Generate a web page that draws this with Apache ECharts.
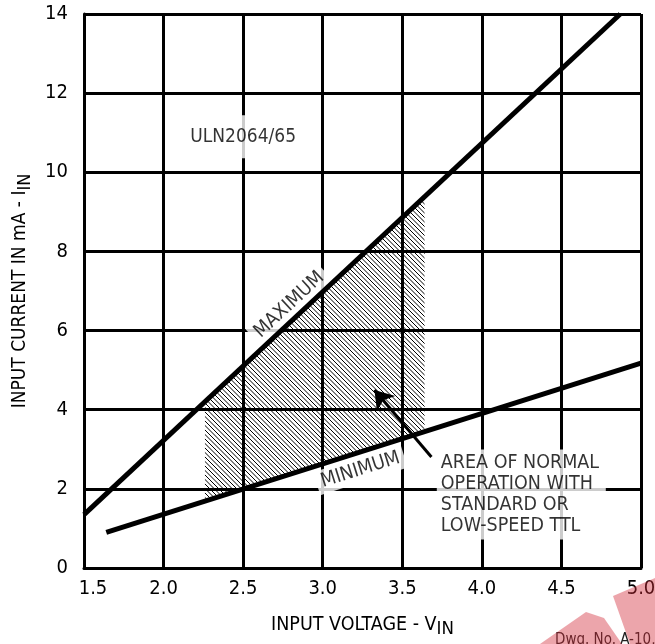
<!DOCTYPE html>
<html><head><meta charset="utf-8">
<script src="https://cdn.jsdelivr.net/npm/echarts@6.0.0/dist/echarts.min.js"></script>
<style>html,body{margin:0;padding:0;background:#fff}#c{width:655px;height:644px}</style>
</head><body><div id="c"></div>
<script>
// ---- data ----
const xTickLabels = ['1.5','2.0','2.5','3.0','3.5','4.0','4.5','5.0'];
const yTickLabels = ['0','2','4','6','8','10','12','14'];
const maxLine = [[1.5, 1.35], [4.87, 14]];
const minLine = [[1.64, 0.9], [5.0, 5.18]];
const normalArea = [[2.26, 1.67], [2.26, 4.24], [3.64, 9.4], [3.64, 3.42]];
const arrowLine = [[3.683, 2.805], [3.325, 4.5]];
const maxLabelPos = [2.79, 6.65];
const minLabelPos = [3.237, 2.48];
const deviceLabelPos = [2.5, 10.9];
const noteBoxPos = [3.72, 2.98];
const noteText = ['AREA OF NORMAL', 'OPERATION WITH', 'STANDARD OR', 'LOW-SPEED TTL'];

const FONT = "'Liberation Sans Narrow', 'Arial Narrow', 'DejaVu Sans Condensed', sans-serif";

// hatch pattern (\\\ lines)
const hatch = document.createElement('canvas');
hatch.width = 9; hatch.height = 9;
(function(){
  const c = hatch.getContext('2d');
  c.strokeStyle = '#000'; c.lineWidth = 1;
  c.beginPath();
  for (let k = -18; k <= 18; k += 4.5) { c.moveTo(k - 2, -2); c.lineTo(k + 11, 11); }
  c.stroke();
})();

const chart = echarts.init(document.getElementById('c'), null, {renderer: 'canvas'});
const txt = {color: '#000', fontFamily: FONT, fontSize: 20};

chart.setOption({
  animation: false,
  backgroundColor: '#fff',
  grid: {left: 84, right: 14, top: 14, bottom: 76, containLabel: false, outerBoundsMode: 'none'},
  xAxis: {
    type: 'value', min: 1.5, max: 5.0, interval: 0.5,
    name: 'INPUT VOLTAGE - V{sub|IN}', nameLocation: 'middle', nameGap: 43,
    nameTextStyle: Object.assign({}, txt, {fontSize: 19.5, rich: {sub: {fontFamily: FONT, fontSize: 18.5, color: '#000', padding: [9, 0, 0, 0]}}}),
    axisLine: {show: true, onZero: false, lineStyle: {color: '#000', width: 3}},
    axisTick: {show: false},
    splitLine: {show: true, lineStyle: {color: '#000', width: 3}},
    axisLabel: Object.assign({}, txt, {
      margin: 11, showMinLabel: true, showMaxLabel: true, hideOverlap: false,
      formatter: (v) => {
        const i = Math.round((v - 1.5) / 0.5);
        return i === 0 ? '{first|' + xTickLabels[i] + '}' : xTickLabels[i];
      },
      rich: {first: {fontFamily: FONT, fontSize: 20, color: '#000', padding: [0, 0, 0, 18]}}
    })
  },
  yAxis: {
    type: 'value', min: 0, max: 14, interval: 2,
    name: 'INPUT CURRENT IN mA - I{sub|IN}', nameLocation: 'middle', nameGap: 50,
    nameTextStyle: Object.assign({}, txt, {fontSize: 19, rich: {sub: {fontFamily: FONT, fontSize: 18, color: '#000', padding: [9, 0, 0, 0]}}}),
    axisLine: {show: true, onZero: false, lineStyle: {color: '#000', width: 3}},
    axisTick: {show: false},
    splitLine: {show: true, lineStyle: {color: '#000', width: 3}},
    axisLabel: Object.assign({}, txt, {
      margin: 16, showMinLabel: true, showMaxLabel: true,
      formatter: (v) => yTickLabels[Math.round(v / 2)]
    })
  },
  series: [
    {
      type: 'custom', z: 2, silent: true, clip: true,
      data: normalArea, encode: {x: 0, y: 1},
      renderItem: (params, api) => {
        if (params.dataIndex !== 0) return null;
        return {
          type: 'polygon',
          shape: {points: normalArea.map(p => api.coord(p))},
          style: {fill: {image: hatch, repeat: 'repeat'}, stroke: null}
        };
      }
    },
    {
      type: 'scatter', z: 3, silent: true, symbolSize: 1,
      itemStyle: {color: 'rgba(0,0,0,0)'},
      data: [
        {value: maxLabelPos, label: {show: true, formatter: 'MAXIMUM', rotate: 43}},
        {value: minLabelPos, label: {show: true, formatter: 'MINIMUM', rotate: 17.6}},
        {value: deviceLabelPos, label: {show: true, formatter: 'ULN2064/65', fontSize: 19, padding: [12, 6, 12, 6]}},
        {value: noteBoxPos, label: {show: true, formatter: noteText.join('\n'),
          position: [0, 0], align: 'left', verticalAlign: 'top', fontSize: 19.5,
          lineHeight: 21, padding: [3, 4, 3, 4], width: 161}}
      ],
      label: Object.assign({}, txt, {fontSize: 19.5, position: 'inside', align: 'center', verticalAlign: 'middle',
        backgroundColor: '#fff', padding: [2, 5, 2, 5]})
    },
    {type: 'line', z: 5, silent: true, data: maxLine, showSymbol: false, symbol: 'none',
      lineStyle: {color: '#000', width: 5}},
    {type: 'line', z: 5, silent: true, data: minLine, showSymbol: false, symbol: 'none',
      lineStyle: {color: '#000', width: 5}},
    {type: 'lines', coordinateSystem: 'cartesian2d', z: 6, silent: true,
      symbol: ['none', 'arrow'], symbolSize: 18,
      lineStyle: {color: '#000', width: 3, opacity: 1, curveness: 0},
      data: [{coords: arrowLine}]}
  ],
  graphic: [
    {type: 'text', left: 555, top: 633, z: 10, silent: true,
      style: {text: 'Dwg. No. A-10,', fill: '#222', font: '15px ' + FONT}},
    {type: 'polygon', z: 20, silent: true,
      shape: {points: [[613, 596], [655, 578], [655, 644], [630, 644]]},
      style: {fill: 'rgba(210,40,55,0.42)'}},
    {type: 'polygon', z: 20, silent: true,
      shape: {points: [[540, 644], [586, 612], [604, 618], [622, 644]]},
      style: {fill: 'rgba(210,40,55,0.42)'}}
  ]
});
</script></body></html>
